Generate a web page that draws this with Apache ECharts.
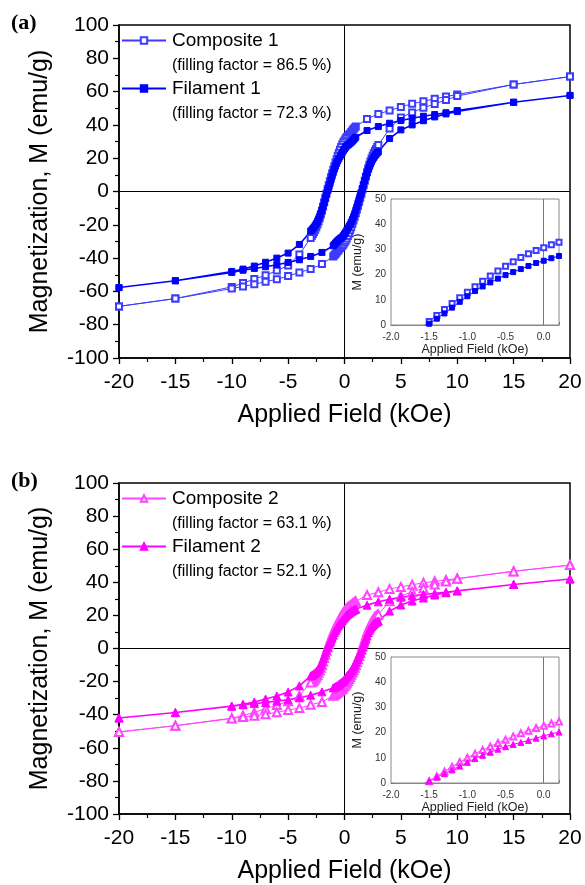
<!DOCTYPE html>
<html><head><meta charset="utf-8">
<script src="https://cdn.jsdelivr.net/npm/echarts@6/dist/echarts.min.js"></script>
<style>html,body{margin:0;padding:0;background:#fff}#c{width:585px;height:885px}</style>
</head><body><div id="c"></div>
<script>
// Applied field (kOe), descending branch (+20 -> -20)
const fieldDown = [20,15,10,9,8,7,6,5,4,3,2,
  1.0,0.9,0.8,0.7,0.6,0.5,0.4,0.3,0.2,0.1,0,
  -0.1,-0.2,-0.3,-0.4,-0.5,-0.6,-0.7,-0.8,-0.9,-1.0,
  -1.1,-1.2,-1.3,-1.4,-1.5,-1.6,-1.7,-1.8,-1.9,-2.0,
  -2.1,-2.2,-2.3,-2.4,-2.5,-2.6,-2.7,-2.8,-2.9,-3.0,
  -4,-5,-6,-7,-8,-9,-10,-15,-20];
// Applied field (kOe), ascending branch (-20 -> +20)
const fieldUp = [-20,-15,-10,-9,-8,-7,-6,-5,-4,-3,-2,
  -1.0,-0.9,-0.8,-0.7,-0.6,-0.5,-0.4,-0.3,-0.2,-0.1,0,
  0.1,0.2,0.3,0.4,0.5,0.6,0.7,0.8,0.9,1.0,
  1.1,1.2,1.3,1.4,1.5,1.6,1.7,1.8,1.9,2.0,
  2.1,2.2,2.3,2.4,2.5,2.6,2.7,2.8,2.9,3.0,
  4,5,6,7,8,9,10,15,20];

const composite1Down = [69,64.3,58.3,57,55.7,54.2,52.7,50.8,48.6,46.6,43.6,
  39.0,38.3,37.5,36.6,35.7,34.8,34.0,33.4,32.8,31.8,30.7,
  29.6,28.3,26.8,25.1,23.3,21.4,19.4,17.4,15.2,13.0,
  10.8,8.5,6.2,3.8,1.4,-1.2,-3.8,-6.4,-9.0,-11.5,
  -13.8,-16.0,-18.0,-19.8,-21.4,-22.9,-24.3,-25.6,-26.8,-27.9,
  -37.8,-44.4,-47.5,-50.3,-52.6,-55.0,-57.3,-64.3,-69];
const composite1Up = [-69,-64.3,-58.3,-57,-55.7,-54.2,-52.7,-50.8,-48.6,-46.6,-43.6,
  -39.0,-38.3,-37.5,-36.6,-35.7,-34.8,-34.0,-33.4,-32.8,-31.8,-30.7,
  -29.6,-28.3,-26.8,-25.1,-23.3,-21.4,-19.4,-17.4,-15.2,-13.0,
  -10.8,-8.5,-6.2,-3.8,-1.4,1.2,3.8,6.4,9.0,11.5,
  13.8,16.0,18.0,19.8,21.4,22.9,24.3,25.6,26.8,27.9,
  37.8,44.4,47.5,50.3,52.6,55.0,57.3,64.3,69];

const filament1Down = [57.7,53.6,48.6,47.3,46.2,45.2,44.0,42.6,41.0,39.0,36.6,
  32.6,31.8,31.0,30.3,29.6,29.0,28.4,27.9,27.4,26.5,25.5,
  24.6,23.4,22.2,21.0,19.8,18.4,16.9,15.3,13.5,11.4,
  9.2,6.9,4.6,2.5,0.5,-1.8,-4.2,-6.6,-9.0,-11.2,
  -13.2,-15.0,-16.6,-18.0,-19.3,-20.4,-21.4,-22.3,-23.1,-23.8,
  -31.8,-37.0,-40.0,-42.5,-44.8,-46.6,-48.0,-53.6,-57.7];
const filament1Up = [-57.7,-53.6,-48.6,-47.3,-46.2,-45.2,-44.0,-42.6,-41.0,-39.0,-36.6,
  -32.6,-31.8,-31.0,-30.3,-29.6,-29.0,-28.4,-27.9,-27.4,-26.5,-25.5,
  -24.6,-23.4,-22.2,-21.0,-19.8,-18.4,-16.9,-15.3,-13.5,-11.4,
  -9.2,-6.9,-4.6,-2.5,-0.5,1.8,4.2,6.6,9.0,11.2,
  13.2,15.0,16.6,18.0,19.3,20.4,21.4,22.3,23.1,23.8,
  31.8,37.0,40.0,42.5,44.8,46.6,48.0,53.6,57.7];

const composite2Down = [50.4,46.7,42.3,41.4,40.6,39.7,38.5,37.2,36.0,34.0,32.3,
  28.5,28.0,27.5,27.0,26.5,26.0,25.4,24.9,24.4,23.6,22.7,
  21.8,20.7,19.7,18.5,17.2,15.9,14.5,13.1,11.6,10.0,
  8.3,6.5,4.6,2.7,0.7,-1.4,-3.6,-5.8,-7.9,-9.9,
  -11.7,-13.3,-14.7,-16.0,-17.1,-18.1,-19.0,-19.7,-20.2,-20.6,
  -28.5,-31.8,-34.2,-36.4,-38.6,-40.5,-42.1,-46.6,-50.4];
const composite2Up = [-50.4,-46.7,-42.3,-41.4,-40.6,-39.7,-38.5,-37.2,-36.0,-34.0,-32.3,
  -28.5,-28.0,-27.5,-27.0,-26.5,-26.0,-25.4,-24.9,-24.4,-23.6,-22.7,
  -21.8,-20.7,-19.7,-18.5,-17.2,-15.9,-14.5,-13.1,-11.6,-10.0,
  -8.3,-6.5,-4.6,-2.7,-0.7,1.4,3.6,5.8,7.9,9.9,
  11.7,13.3,14.7,16.0,17.1,18.1,19.0,19.7,20.2,20.6,
  28.5,31.8,34.2,36.4,38.6,40.5,42.1,46.6,50.4];

const filament2Down = [42.0,38.7,34.8,34.0,33.3,32.6,31.8,31.0,29.8,28.2,26.2,
  23.8,23.5,23.1,22.7,22.3,21.8,21.2,20.7,20.2,19.5,18.7,
  17.8,16.9,16.1,15.3,14.4,13.4,12.2,11.0,9.7,8.2,
  6.7,5.2,3.7,2.3,0.8,-0.8,-2.6,-4.4,-6.2,-8.0,
  -9.6,-11.0,-12.2,-13.2,-14.0,-14.7,-15.3,-15.8,-16.2,-16.6,
  -22.6,-26.3,-28.7,-30.5,-32.3,-33.7,-34.8,-38.7,-42.0];
const filament2Up = [-42.0,-38.7,-34.8,-34.0,-33.3,-32.6,-31.8,-31.0,-29.8,-28.2,-26.2,
  -23.8,-23.5,-23.1,-22.7,-22.3,-21.8,-21.2,-20.7,-20.2,-19.5,-18.7,
  -17.8,-16.9,-16.1,-15.3,-14.4,-13.4,-12.2,-11.0,-9.7,-8.2,
  -6.7,-5.2,-3.7,-2.3,-0.8,0.8,2.6,4.4,6.2,8.0,
  9.6,11.0,12.2,13.2,14.0,14.7,15.3,15.8,16.2,16.6,
  22.6,26.3,28.7,30.5,32.3,33.7,34.8,38.7,42.0];

const seriesNames = ['Composite 1','Filament 1','Composite 2','Filament 2'];
const fillingFactors = ['(filling factor = 86.5 %)','(filling factor = 72.3 %)','(filling factor = 63.1 %)','(filling factor = 52.1 %)'];
const panelLabels = ['(a)','(b)'];

function loop(down, up){
  return fieldDown.map((h,i)=>[h,down[i]]).concat(fieldUp.map((h,i)=>[h,up[i]]));
}

const FONT = 'Liberation Sans, Arial, sans-serif';
const mainX = (g) => ({
  gridIndex:g, type:'value', min:-20, max:20, interval:5,
  axisLine:{show:true,onZero:false,lineStyle:{color:'#000',width:1.5}},
  axisTick:{show:true,inside:false,length:6,lineStyle:{color:'#000',width:1.3}},
  minorTick:{show:true,splitNumber:2,length:4,lineStyle:{color:'#000',width:1.2}},
  splitLine:{show:false},
  axisLabel:{fontSize:21,color:'#000',fontFamily:FONT,margin:14},
  name:'Applied Field (kOe)', nameLocation:'middle', nameGap:45,
  nameTextStyle:{fontSize:25,color:'#000',fontFamily:FONT}
});
const mainY = (g) => ({
  gridIndex:g, type:'value', min:-100, max:100, interval:20,
  axisLine:{show:true,onZero:false,lineStyle:{color:'#000',width:1.5}},
  axisTick:{show:true,inside:false,length:6,lineStyle:{color:'#000',width:1.3}},
  minorTick:{show:true,splitNumber:2,length:4,lineStyle:{color:'#000',width:1.2}},
  splitLine:{show:false},
  axisLabel:{fontSize:21,color:'#000',fontFamily:FONT,margin:10},
  name:'Magnetization, M (emu/g)', nameLocation:'middle', nameGap:66,
  nameTextStyle:{fontSize:25,color:'#000',fontFamily:FONT}
});
const insetX = (g) => ({
  gridIndex:g, type:'value', min:-2, max:0.2, interval:0.5,
  axisLine:{show:true,onZero:false,lineStyle:{color:'#888',width:1}},
  axisTick:{show:true,inside:true,length:3,lineStyle:{color:'#666'}},
  minorTick:{show:true,splitNumber:2,length:2,lineStyle:{color:'#666'}},
  splitLine:{show:false},
  axisLabel:{fontSize:10,color:'#333',fontFamily:FONT,margin:7,showMaxLabel:false,
    formatter:v=>v.toFixed(1)},
  name:'Applied Field (kOe)', nameLocation:'middle', nameGap:17,
  nameTextStyle:{fontSize:12.5,color:'#222',fontFamily:FONT}
});
const insetY = (g) => ({
  gridIndex:g, type:'value', min:0, max:50, interval:10,
  axisLine:{show:true,onZero:false,lineStyle:{color:'#888',width:1}},
  axisTick:{show:true,inside:true,length:3,lineStyle:{color:'#666'}},
  minorTick:{show:true,splitNumber:2,length:2,lineStyle:{color:'#666'}},
  splitLine:{show:false},
  axisLabel:{fontSize:10,color:'#333',fontFamily:FONT,margin:5},
  name:'M (emu/g)', nameLocation:'middle', nameGap:27,
  nameTextStyle:{fontSize:12.5,color:'#222',fontFamily:FONT}
});

const styles = [
  {color:'#3c3cff', symbol:'emptyRect', size:6, isize:5, width:1},
  {color:'#0000ff', symbol:'rect', size:6, isize:5, width:1.6},
  {color:'#ff44ff', symbol:'emptyTriangle', size:8, isize:6, width:1},
  {color:'#ff00ff', symbol:'triangle', size:8, isize:6, width:1.6}
];
const loops = [loop(composite1Down,composite1Up), loop(filament1Down,filament1Up),
               loop(composite2Down,composite2Up), loop(filament2Down,filament2Up)];

const series = [];
loops.forEach((d,i)=>{
  const panel = i<2 ? 0 : 1;
  const st = styles[i];
  const main = {
    name:seriesNames[i], type:'line', data:d, xAxisIndex:panel*2, yAxisIndex:panel*2,
    symbol:st.symbol, symbolSize:st.size, showAllSymbol:true, clip:true,
    lineStyle:{color:st.color,width:st.width}, itemStyle:{color:st.color,borderColor:st.color,borderWidth:1},
    z: 3
  };
  if(i%2===0){
    main.markLine = {silent:true, symbol:['none','none'], label:{show:false}, animation:false,
      lineStyle:{color:'#000',width:1,type:'solid'}, data:[{xAxis:0},{yAxis:0}], z:1};
  }
  series.push(main);
  const inset = {
    name:seriesNames[i]+' inset', type:'line', data:d, xAxisIndex:panel*2+1, yAxisIndex:panel*2+1,
    symbol:st.symbol, symbolSize:st.isize, showAllSymbol:true, clip:true,
    lineStyle:{color:st.color,width:1}, itemStyle:{color:st.color,borderColor:st.color,borderWidth:1},
    z: 5
  };
  if(i%2===0){
    inset.markLine = {silent:true, symbol:['none','none'], label:{show:false}, animation:false,
      lineStyle:{color:'#777',width:1,type:'solid'}, data:[{xAxis:0}]};
  }
  series.push(inset);
});

const legendBase = (name, top) => ({
  data:[name], left:121, top:top, orient:'horizontal', padding:0,
  itemWidth:44, itemHeight:8, itemGap:6,
  textStyle:{fontSize:19,color:'#000',fontFamily:FONT,padding:[0,0,0,1]},
  selectedMode:false
});

const option = {
  animation:false,
  backgroundColor:'#fff',
  grid:[
    {left:119, top:25, width:451, height:333, show:true, borderColor:'#000', borderWidth:1.5, backgroundColor:'transparent', z:0},
    {left:391, top:199, width:168, height:126, show:true, borderColor:'#888', borderWidth:1, backgroundColor:'#fff', z:4},
    {left:119, top:483, width:451, height:332, show:true, borderColor:'#000', borderWidth:1.5, backgroundColor:'transparent', z:0},
    {left:391, top:657, width:168, height:126, show:true, borderColor:'#888', borderWidth:1, backgroundColor:'#fff', z:4}
  ],
  xAxis:[mainX(0), insetX(1), mainX(2), insetX(3)],
  yAxis:[mainY(0), insetY(1), mainY(2), insetY(3)],
  legend:[
    legendBase(seriesNames[0], 31),
    legendBase(seriesNames[1], 79),
    legendBase(seriesNames[2], 489),
    legendBase(seriesNames[3], 537)
  ],
  graphic:[
    {type:'text', left:172, top:58, style:{text:fillingFactors[0], font:'16px '+FONT, fill:'#000'}},
    {type:'text', left:172, top:106, style:{text:fillingFactors[1], font:'16px '+FONT, fill:'#000'}},
    {type:'text', left:172, top:516, style:{text:fillingFactors[2], font:'16px '+FONT, fill:'#000'}},
    {type:'text', left:172, top:564, style:{text:fillingFactors[3], font:'16px '+FONT, fill:'#000'}},
    {type:'text', left:11, top:12, style:{text:panelLabels[0], font:'bold 22px Liberation Serif, serif', fill:'#000'}},
    {type:'text', left:11, top:470, style:{text:panelLabels[1], font:'bold 22px Liberation Serif, serif', fill:'#000'}}
  ],
  series:series
};
const chart = echarts.init(document.getElementById('c'), null, {renderer:'canvas'});
chart.setOption(option);
</script></body></html>
